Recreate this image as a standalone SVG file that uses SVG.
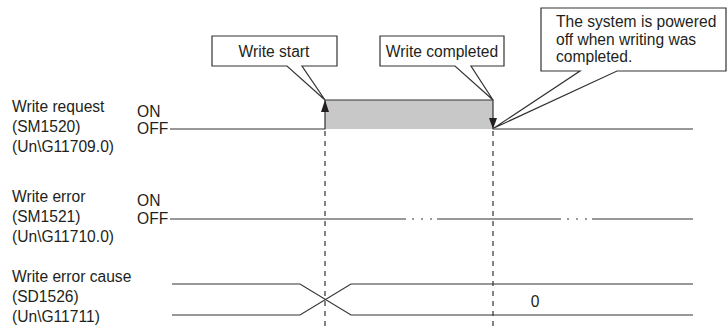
<svg xmlns="http://www.w3.org/2000/svg" width="728" height="329" viewBox="0 0 728 329">
<style>
text{font-family:"Liberation Sans",Arial,sans-serif;font-size:15.6px;fill:#231f20}
.ln{stroke:#333;stroke-width:1.2;fill:none}
.dash{stroke:#333;stroke-width:1.2;fill:none;stroke-dasharray:5,5}
.co{fill:#fff;stroke:#333;stroke-width:1.2}
.ah{fill:#231f20}
</style>
<rect width="728" height="329" fill="#fff"/>
<g id="labels">
<text x="12" y="112">Write request</text>
<text x="12" y="132">(SM1520)</text>
<text x="12" y="152">(Un\G11709.0)</text>
<text x="137" y="117">ON</text>
<text x="137" y="134">OFF</text>
<text x="12" y="202">Write error</text>
<text x="12" y="222">(SM1521)</text>
<text x="12" y="242">(Un\G11710.0)</text>
<text x="137" y="206">ON</text>
<text x="137" y="224">OFF</text>
<text x="12" y="282">Write error cause</text>
<text x="12" y="302">(SD1526)</text>
<text x="12" y="322">(Un\G11711)</text>
</g>
<g id="write-request-signal">
<rect x="325" y="100" width="168" height="29" fill="#c8c8c8"/>
<path class="ln" d="M170,129 H325 V100 H493 V129 H693"/>
<path class="ah" d="M325,100 L321,112 H329 Z"/>
<path class="ah" d="M493,129 L489,118 H497 Z"/>
</g>
<g id="write-error-signal">
<path class="ln" d="M170,219 H406 M437,219 H561 M592,219 H693"/>
<path class="ln" d="M412,219 h2 M421,219 h2 M430,219 h2 M567,219 h2 M576,219 h2 M585,219 h2"/>
</g>
<g id="write-error-cause-signal">
<path class="ln" d="M172,284 H300 L351,315 H693 M172,315 H300 L351,284 H693"/>
<text x="535" y="307" text-anchor="middle">0</text>
</g>
<g id="connectors">
<path class="dash" d="M325,131 V329 M493,131 V329"/>
</g>
<g id="callout-write-start">
<path class="co" d="M212,36 H337 V66 H302 L325,100 L287,66 H212 Z"/>
<text x="274" y="57" text-anchor="middle">Write start</text>
</g>
<g id="callout-write-completed">
<path class="co" d="M380,36 H504 V66 H471 L493,100 L455,66 H380 Z"/>
<text x="442" y="57" text-anchor="middle">Write completed</text>
</g>
<g id="callout-powered-off">
<path class="co" d="M541,8 H726 V71 H617 L494,128 L580,71 H541 Z"/>
<text x="556" y="27">The system is powered</text>
<text x="556" y="44.5">off when writing was</text>
<text x="556" y="62">completed.</text>
</g>
</svg>
